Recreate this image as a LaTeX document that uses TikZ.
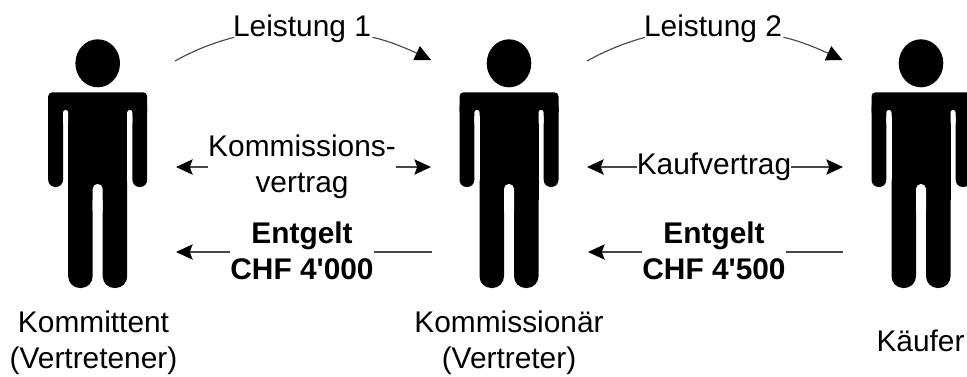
\documentclass[tikz,border=0pt]{standalone}
\usepackage{fontspec}
\setmainfont{Liberation Sans}[Ligatures=TeXOff]
\usetikzlibrary{arrows.meta}
\tikzset{
  x=0.75pt,y=-0.75pt,
  lbl/.style={font=\fontsize{22.4pt}{27pt}\selectfont,inner sep=0pt,align=center,text=black},
  boldlbl/.style={lbl,font=\fontsize{22.4pt}{27pt}\selectfont\bfseries},
  conn/.style={line width=0.85pt,draw=black!72},
  hor/.style={conn,-{Stealth[length=12.5pt,width=11.5pt,inset=2.2pt,color=black]}},
  curv/.style={conn,-{Triangle[length=12pt,width=11.5pt,color=black]}},
  person/.pic={
    % head
    \fill[black] (0,63.3) ellipse [x radius=22.3,y radius=24];
    % shoulders, arms, torso, legs
    \fill[black,rounded corners=3pt] (-49.5,92.3) rectangle (49.5,116);
    \fill[black,rounded corners=5.3pt] (-49.5,100) rectangle (-34.7,187);
    \fill[black,rounded corners=5.3pt] (34.7,100) rectangle (49.5,187);
    \fill[black] (-29.5,100) rectangle (29.5,200);
    \fill[black,rounded corners=8.8pt] (-29.5,170) rectangle (-5,288);
    \fill[black,rounded corners=8.8pt] (5,170) rectangle (29.5,288);
    % gaps between arm and torso, and between the legs
    \fill[white,rounded corners=1.9pt] (-34.7,110) rectangle (-29.5,125);
    \fill[white,rounded corners=1.9pt] (29.5,110) rectangle (34.7,125);
    \fill[white,rounded corners=3.6pt] (-5,184) rectangle (5,215);
  }
}
\begin{document}
\begin{tikzpicture}
\useasboundingbox (0,0) rectangle (967,376);
% figures
\pic (kt) at (97.7,0) {person};
\pic (kn) at (509,0) {person};
\pic (kf) at (921,0) {person};
% captions
\node[lbl] (capa) at (93.5,343) {Kommittent\\(Vertretener)};
\node[lbl] (capb) at (509,343) {Kommissionär\\(Vertreter)};
\node[lbl] (capc) at (920.5,341) {Käufer};
% labels
\node[lbl,anchor=base] (la) at (302,36) {Leistung 1};
\node[lbl,anchor=base] (lb) at (713,36) {Leistung 2};
\node[lbl] (ka) at (302,166.5) {Kommissions-\\vertrag};
\node[lbl] (kb) at (714,166.5) {Kaufvertrag};
\node[boldlbl] (ea) at (302,251) {Entgelt\\CHF 4'000};
\node[boldlbl] (eb) at (714,251) {Entgelt\\CHF 4'500};
% connector ends
\coordinate (a1) at (175,61);
\coordinate (a2) at (431,60);
\coordinate (b1) at (587,61);
\coordinate (b2) at (842.5,60);
\coordinate (c1) at (176,167);
\coordinate (c2) at (431,167);
\coordinate (d1) at (587,167);
\coordinate (d2) at (843,167);
\coordinate (e1) at (176,252);
\coordinate (e2) at (432,252);
\coordinate (f1) at (588,252);
\coordinate (f2) at (843,252);
% connectors
\draw[conn] (a1) .. controls (193,51) and (212,43) .. ([xshift=1pt,yshift=-1pt]la.base west);
\draw[curv] ([xshift=1pt,yshift=-1pt]la.base east) .. controls (390,41) and (410,50) .. (a2);
\draw[conn] (b1) .. controls (605,51) and (624,43) .. ([xshift=1pt,yshift=-1pt]lb.base west);
\draw[curv] ([xshift=1pt,yshift=-1pt]lb.base east) .. controls (801,41) and (821,50) .. (b2);
\draw[hor] (ka.west |- c1) -- (c1);
\draw[hor] (ka.east |- c2) -- (c2);
\draw[hor] (kb.west |- d1) -- (d1);
\draw[hor] (kb.east |- d2) -- (d2);
\draw[hor] (ea.west |- e1) -- (e1);
\draw[conn] (e2) -- (ea.east |- e2);
\draw[hor] (eb.west |- f1) -- (f1);
\draw[conn] (f2) -- (eb.east |- f2);
\end{tikzpicture}
\end{document}
